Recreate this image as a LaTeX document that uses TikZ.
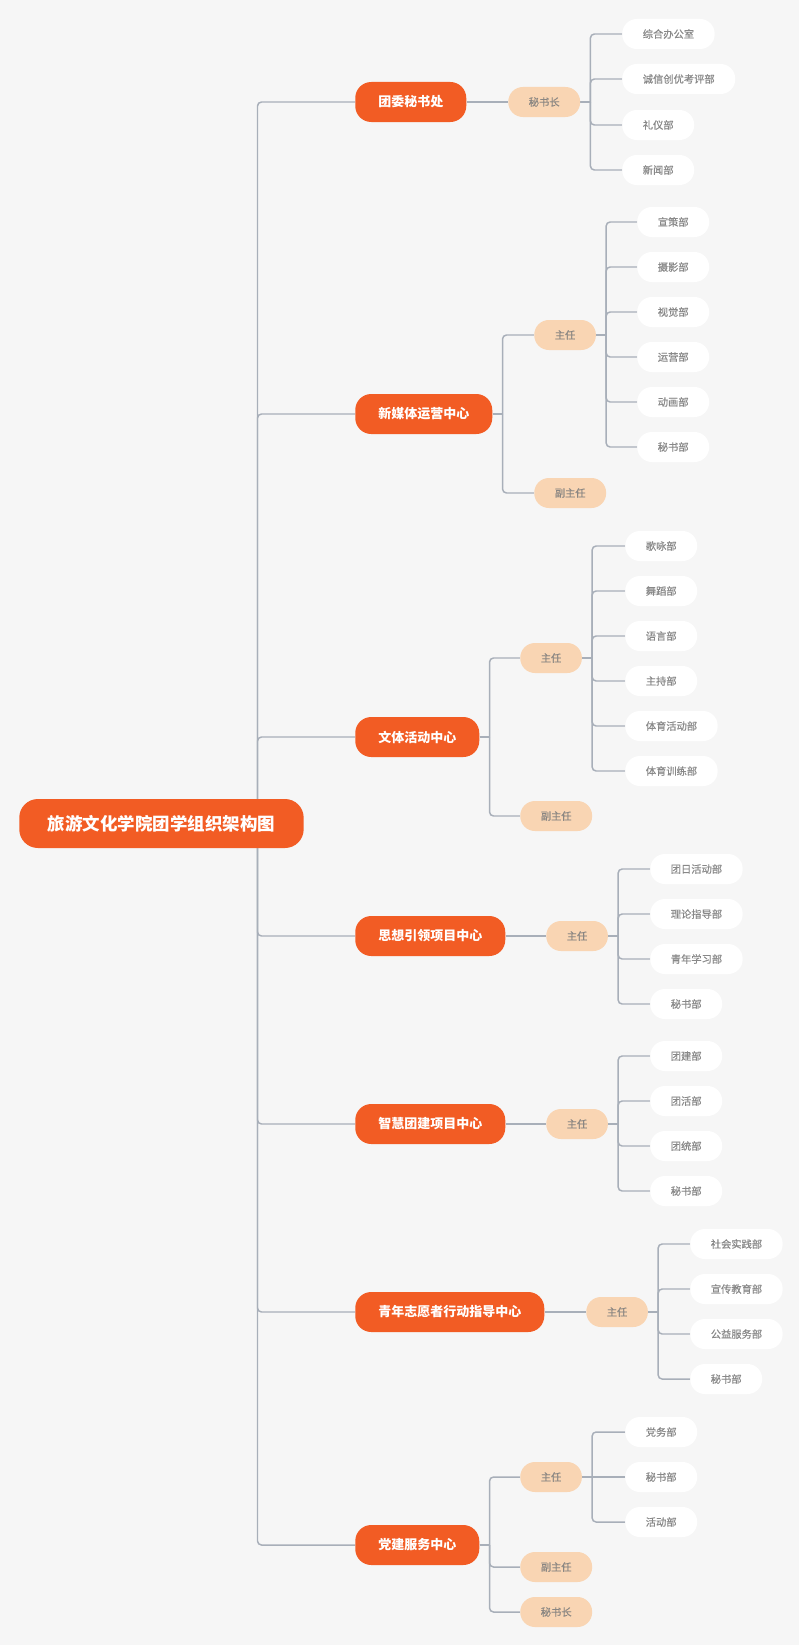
\documentclass[tikz,border=0pt]{standalone}
\usepackage{fontspec}
\setmainfont{Noto Sans CJK SC}
\newfontfamily\deptfont{Noto Sans CJK SC}[FakeBold=0.5]
\usetikzlibrary{backgrounds}
\definecolor{mainorange}{RGB}{242, 92, 36}
\definecolor{peach}{RGB}{249, 213, 179}
\definecolor{headtext}{RGB}{138, 134, 130}
\definecolor{depttext}{RGB}{136, 136, 136}
\definecolor{linegrey}{RGB}{168, 175, 185}
\definecolor{bggrey}{RGB}{246, 246, 246}

\begin{document}
\begin{tikzpicture}[x=0.75pt, y=-0.75pt,
  rootbox/.style={fill=mainorange, text=white, rounded corners=14pt, minimum height=36.75pt, inner xsep=21.5pt, inner ysep=0pt, anchor=west, font=\fontsize{13.1}{15}\selectfont\bfseries},
  topbox/.style={fill=mainorange, text=white, rounded corners=12pt, minimum height=30pt, inner xsep=17.25pt, inner ysep=0pt, anchor=west, font=\fontsize{9.75}{12}\selectfont\bfseries},
  headbox/.style={fill=peach, text=headtext, rounded corners=11pt, minimum height=22.5pt, inner xsep=15.4pt, inner ysep=0pt, anchor=west, font=\deptfont\fontsize{7.7}{9}\selectfont},
  deptbox/.style={headbox, fill=white, text=depttext},
  link/.style={draw=linegrey, line width=1.1pt, rounded corners=3pt}
]
  \useasboundingbox (0,0) rectangle (799,1645);

  % Root
  \node[rootbox] (root) at (19, 823.5) {旅游文化学院团学组织架构图};
  \coordinate (trunk) at (257.5, 823.5);

  % 团委秘书处
  \node[topbox] (tw) at (355, 102) {团委秘书处};
  \node[headbox] (tw1) at (508, 102) {秘书长};
  \node[deptbox] (tw11) at (622, 34) {综合办公室};
  \node[deptbox] (tw12) at (622, 79) {诚信创优考评部};
  \node[deptbox] (tw13) at (622, 125) {礼仪部};
  \node[deptbox] (tw14) at (622, 170) {新闻部};

  % 新媒体运营中心
  \node[topbox] (xm) at (355, 414) {新媒体运营中心};
  \node[headbox] (xm1) at (534, 335) {主任};
  \node[headbox] (xm2) at (534, 493) {副主任};
  \node[deptbox] (xm11) at (637, 222) {宣策部};
  \node[deptbox] (xm12) at (637, 267) {摄影部};
  \node[deptbox] (xm13) at (637, 312) {视觉部};
  \node[deptbox] (xm14) at (637, 357) {运营部};
  \node[deptbox] (xm15) at (637, 402) {动画部};
  \node[deptbox] (xm16) at (637, 447) {秘书部};

  % 文体活动中心
  \node[topbox] (wt) at (355, 737) {文体活动中心};
  \node[headbox] (wt1) at (520, 658) {主任};
  \node[headbox] (wt2) at (520, 816) {副主任};
  \node[deptbox] (wt11) at (625, 546) {歌咏部};
  \node[deptbox] (wt12) at (625, 591) {舞蹈部};
  \node[deptbox] (wt13) at (625, 636) {语言部};
  \node[deptbox] (wt14) at (625, 681) {主持部};
  \node[deptbox] (wt15) at (625, 726) {体育活动部};
  \node[deptbox] (wt16) at (625, 771) {体育训练部};

  % 思想引领项目中心
  \node[topbox] (sx) at (355, 936) {思想引领项目中心};
  \node[headbox] (sx1) at (546, 936) {主任};
  \node[deptbox] (sx11) at (650, 869) {团日活动部};
  \node[deptbox] (sx12) at (650, 914) {理论指导部};
  \node[deptbox] (sx13) at (650, 959) {青年学习部};
  \node[deptbox] (sx14) at (650, 1004) {秘书部};

  % 智慧团建项目中心
  \node[topbox] (zh) at (355, 1124) {智慧团建项目中心};
  \node[headbox] (zh1) at (546, 1124) {主任};
  \node[deptbox] (zh11) at (650, 1056) {团建部};
  \node[deptbox] (zh12) at (650, 1101) {团活部};
  \node[deptbox] (zh13) at (650, 1146) {团统部};
  \node[deptbox] (zh14) at (650, 1191) {秘书部};

  % 青年志愿者行动指导中心
  \node[topbox] (qn) at (355, 1312) {青年志愿者行动指导中心};
  \node[headbox] (qn1) at (586, 1312) {主任};
  \node[deptbox] (qn11) at (690, 1244) {社会实践部};
  \node[deptbox] (qn12) at (690, 1289) {宣传教育部};
  \node[deptbox] (qn13) at (690, 1334) {公益服务部};
  \node[deptbox] (qn14) at (690, 1379) {秘书部};

  % 党建服务中心
  \node[topbox] (dj) at (355, 1545) {党建服务中心};
  \node[headbox] (dj1) at (520, 1477) {主任};
  \node[headbox] (dj2) at (520, 1567) {副主任};
  \node[headbox] (dj3) at (520, 1612) {秘书长};
  \node[deptbox] (dj11) at (625, 1432) {党务部};
  \node[deptbox] (dj12) at (625, 1477) {秘书部};
  \node[deptbox] (dj13) at (625, 1522) {活动部};

  % Connectors behind the boxes
  \begin{scope}[on background layer]
    \fill[bggrey] (0,0) rectangle (799,1645);
    \foreach \c in {tw, xm, wt, sx, zh, qn, dj}
      \draw[link] (trunk) |- (\c.west);
    % straight links (same height)
    \foreach \p/\c in {tw/tw1, sx/sx1, zh/zh1, qn/qn1, dj1/dj12}
      \draw[link] (\p.east) -- (\c.west);
    % elbow links
    \foreach \p/\c in {tw1/tw11, tw1/tw12, tw1/tw13, tw1/tw14,
        xm/xm1, xm/xm2, xm1/xm11, xm1/xm12, xm1/xm13, xm1/xm14, xm1/xm15, xm1/xm16,
        wt/wt1, wt/wt2, wt1/wt11, wt1/wt12, wt1/wt13, wt1/wt14, wt1/wt15, wt1/wt16,
        sx1/sx11, sx1/sx12, sx1/sx13, sx1/sx14,
        zh1/zh11, zh1/zh12, zh1/zh13, zh1/zh14,
        qn1/qn11, qn1/qn12, qn1/qn13, qn1/qn14,
        dj/dj1, dj/dj2, dj/dj3, dj1/dj11, dj1/dj13} {
      \draw[link] (\p.east) -- ++(10,0);
      \draw[link] ([xshift=7.5pt]\p.east) |- (\c.west);
    }
  \end{scope}
\end{tikzpicture}
\end{document}
